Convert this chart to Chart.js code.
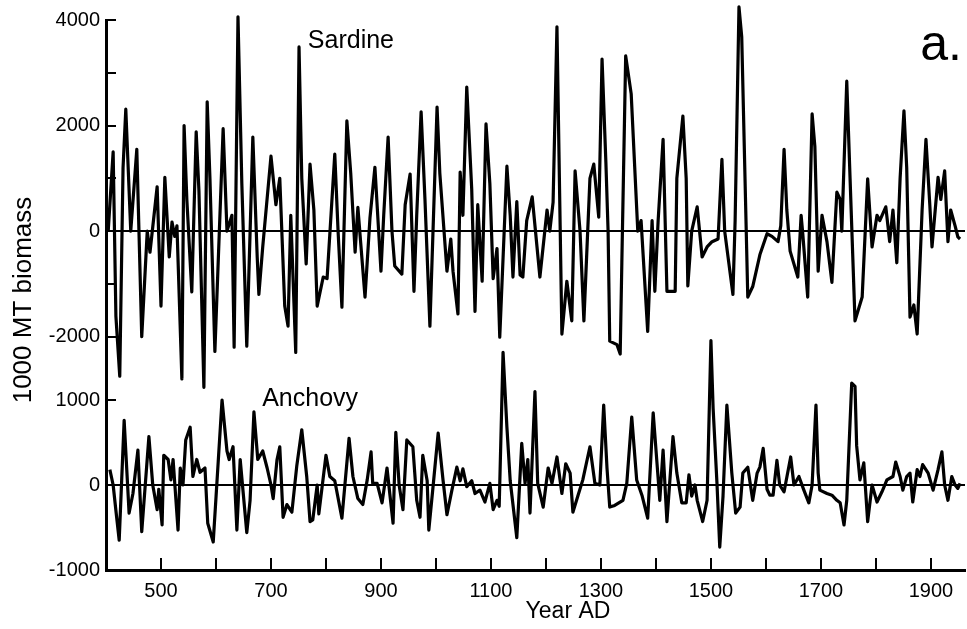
<!DOCTYPE html>
<html>
<head>
<meta charset="utf-8">
<script src="https://cdn.jsdelivr.net/npm/chart.js@4.4.0/dist/chart.umd.min.js"></script>
<style>
  html, body { margin: 0; padding: 0; background: #fff; }
  #chart { display: block; }
</style>
</head>
<body>
<canvas id="chart" width="967" height="629"></canvas>
<script>
const FONT = '"Liberation Sans", Arial, Helvetica, sans-serif';

// --- DATA ---
const sardineYears = [
  404, 413, 418, 425, 431, 436, 445, 456, 465, 475,
  480, 493, 500, 507, 515, 520, 525, 529, 538, 542,
  547, 556, 564, 569, 578, 584, 589, 598, 613, 620,
  629, 633, 640, 647, 656, 667, 675, 678, 685, 700,
  709, 716, 725, 731, 736, 745, 751, 756, 764, 771,
  778, 784, 795, 802, 816, 822, 829, 838, 845, 853,
  858, 871, 880, 889, 900, 905, 913, 920, 925, 938,
  944, 953, 960, 965, 973, 980, 989, 1002, 1007, 1020,
  1027, 1031, 1040, 1044, 1049, 1056, 1065, 1071, 1076, 1084,
  1091, 1098, 1104, 1111, 1116, 1129, 1135, 1140, 1147, 1153,
  1158, 1165, 1175, 1189, 1202, 1207, 1213, 1220, 1229, 1238,
  1247, 1253, 1262, 1269, 1280, 1287, 1296, 1302, 1309, 1313,
  1316, 1329, 1335, 1338, 1345, 1355, 1367, 1373, 1385, 1393,
  1398, 1404, 1413, 1420, 1435, 1438, 1449, 1455, 1458, 1465,
  1475, 1484, 1493, 1502, 1513, 1520, 1525, 1540, 1544, 1551,
  1556, 1567, 1576, 1589, 1602, 1611, 1622, 1627, 1633, 1638,
  1644, 1658, 1664, 1667, 1676, 1684, 1689, 1695, 1702, 1711,
  1720, 1729, 1735, 1738, 1747, 1753, 1762, 1775, 1785, 1793,
  1802, 1807, 1818, 1825, 1831, 1838, 1844, 1851, 1856, 1862,
  1869, 1875, 1884, 1891, 1898, 1902, 1913, 1918, 1925, 1931,
  1936, 1944, 1949, 1953
];
const sardineValues = [
  0, 1500, -1610, -2750, 1200, 2310, 0, 1550, -2000, 0,
  -400, 840, -1420, 1020, -490, 170, -100, 100, -2800, 2000,
  600, -1150, 1880, 760, -2960, 2450, 1000, -2280, 1940, 0,
  300, -2200, 4060, 900, -2180, 1780, -500, -1200, -300, 1420,
  500, 1000, -1420, -1800, 300, -2300, 3490, 1000, -620, 1270,
  400, -1420, -870, -900, 1460, 0, -1440, 2090, 1100, -400,
  450, -1250, 250, 1210, -760, 300, 1780, 0, -660, -815,
  500, 1080, -1140, 300, 2260, 600, -1800, 2350, 1100, -760,
  -150, -760, -1570, 1120, 300, 2730, 800, -1520, 500, -950,
  2030, 900, -900, -330, -2010, 1230, 300, -870, 560, -830,
  -870, 200, 650, -870, 400, 0, 550, 3870, -1950, -950,
  -1700, 1140, 0, -1700, 1000, 1270, 265, 3260, 1300, 0,
  -2085, -2150, -2330, -600, 3320, 2600, 0, 200, -1900, 200,
  -1140, 200, 1740, -1140, -1140, 1000, 2180, 1000, -1040, 0,
  460, -490, -300, -200, -150, 1360, 0, -1200, 200, 4250,
  3680, -1250, -1050, -450, -50, -100, -200, 100, 1550, 400,
  -380, -870, 300, -50, -1250, 2220, 1600, -760, 300, -200,
  -970, 740, 600, 0, 2840, 1000, -1700, -1250, 990, -300,
  300, 200, 460, -200, 400, -600, 1000, 2280, 1200, -1630,
  -1400, -1950, 400, 1740, 500, -300, 1020, 600, 1140, -200,
  400, 100, -110, -150
];

const anchovyYears = [
  407, 413, 418, 424, 433, 442, 449, 458, 465, 478,
  485, 493, 496, 502, 505, 513, 518, 522, 531, 535,
  540, 545, 553, 558, 565, 571, 580, 585, 595, 602,
  611, 620, 624, 631, 638, 644, 656, 662, 669, 676,
  685, 693, 700, 704, 711, 716, 722, 729, 738, 747,
  756, 765, 771, 776, 784, 787, 800, 807, 816, 829,
  842, 849, 858, 867, 875, 882, 885, 893, 902, 911,
  916, 922, 927, 933, 940, 947, 958, 965, 971, 976,
  984, 987, 995, 1004, 1013, 1020, 1029, 1038, 1044, 1049,
  1056, 1065, 1071, 1080, 1089, 1098, 1104, 1111, 1115, 1122,
  1129, 1135, 1147, 1156, 1162, 1167, 1171, 1180, 1185, 1195,
  1204, 1211, 1220, 1229, 1236, 1244, 1249, 1258, 1267, 1280,
  1289, 1298, 1305, 1311, 1316, 1325, 1340, 1347, 1356, 1365,
  1375, 1385, 1395, 1402, 1407, 1413, 1420, 1431, 1438, 1447,
  1455, 1460, 1465, 1471, 1475, 1485, 1493, 1500, 1504, 1511,
  1516, 1522, 1529, 1538, 1545, 1553, 1558, 1567, 1576, 1584,
  1589, 1595, 1602, 1607, 1613, 1620, 1625, 1633, 1645, 1651,
  1660, 1669, 1678, 1684, 1691, 1695, 1698, 1711, 1720, 1729,
  1735, 1742, 1747, 1756, 1762, 1765, 1771, 1778, 1785, 1793,
  1802, 1811, 1820, 1831, 1836, 1844, 1849, 1856, 1862, 1867,
  1875, 1880, 1885, 1895, 1904, 1913, 1920, 1925, 1931, 1938,
  1944, 1949, 1953
];
const anchovyValues = [
  180, 0, -300, -650, 760, -330, -100, 410, -550, 570,
  0, -290, -50, -470, 350, 300, 60, 300, -530, 200,
  0, 530, 680, 100, 300, 150, 200, -450, -670, 60,
  1000, 400, 300, 450, -530, 300, -560, -180, 860, 300,
  400, 200, 0, -160, 300, 450, -380, -230, -320, 230,
  650, 100, -430, -410, 0, -340, 350, 100, 50, -390,
  550, 100, -160, -230, 60, 390, 20, 20, -210, 200,
  -100, -450, 620, 0, -290, 530, 450, -180, -380, 350,
  50, -530, 0, 610, 50, -350, -60, 210, 50, 190,
  -20, 50, -100, -60, -200, 20, -290, -180, -250, 1560,
  680, 50, -620, 490, 20, 300, -330, 1100, 20, -260,
  200, 20, 330, -100, 250, 140, -320, -130, 60, 450,
  20, 0, 940, 200, -260, -240, -180, 20, 800, 60,
  -130, -390, 850, 250, -180, 410, -430, 570, 140, -210,
  -210, 120, -130, 0, -180, -430, -180, 1700, 900, 20,
  -730, -130, 940, 140, -330, -260, 140, 210, -180, 140,
  210, 430, -50, -120, -120, 290, 0, -80, 330, 0,
  100, -60, -210, 0, 940, 140, -60, -100, -120, -180,
  -210, -470, -180, 1200, 1160, 460, 60, 260, -430, 0,
  -200, -80, 60, 100, 270, 100, -60, 100, 140, -200,
  180, 100, 240, 140, -60, 180, 390, 0, -180, 100,
  0, -40, 20
];

// axis ticks
const yearTicks = [500, 600, 700, 800, 900, 1000, 1100, 1200, 1300, 1400, 1500, 1600, 1700, 1800, 1900];
const sardineTicks = [-2000, -1000, 0, 1000, 2000, 3000, 4000];
const anchovyTicks = [-1000, 0, 1000];

// --- extra drawing: inward tick marks and free text ---
const figureMarks = {
  id: 'figureMarks',
  afterDraw(chart) {
    const { ctx, chartArea, scales } = chart;
    ctx.save();
    ctx.strokeStyle = '#000';
    ctx.lineWidth = 2;

    // left axis ticks point into the plot
    [['ySar', sardineTicks], ['yAnc', anchovyTicks]].forEach(([id, vals]) => {
      vals.forEach(v => {
        const py = Math.round(scales[id].getPixelForValue(v));
        ctx.beginPath();
        ctx.moveTo(chartArea.left, py);
        ctx.lineTo(chartArea.left + 10, py);
        ctx.stroke();
      });
    });
    // bottom axis ticks point up
    yearTicks.forEach(v => {
      const px = Math.round(scales.x.getPixelForValue(v));
      ctx.beginPath();
      ctx.moveTo(px, chartArea.bottom);
      ctx.lineTo(px, chartArea.bottom - 12);
      ctx.stroke();
    });

    ctx.fillStyle = '#000';
    ctx.textBaseline = 'middle';
    ctx.textAlign = 'left';
    ctx.font = '25px ' + FONT;
    ctx.fillText('Sardine', scales.x.getPixelForValue(767), scales.ySar.getPixelForValue(3600));
    ctx.fillText('Anchovy', scales.x.getPixelForValue(684), scales.yAnc.getPixelForValue(1010));

    ctx.textAlign = 'right';
    ctx.textBaseline = 'alphabetic';
    ctx.font = '50px ' + FONT;
    ctx.fillText('a.', chartArea.right - 3, 60);

    // axis titles
    ctx.textAlign = 'center';
    ctx.textBaseline = 'middle';
    ctx.font = '23px ' + FONT;
    ctx.fillText('Year AD', 568, 612);

    ctx.translate(24, 300);
    ctx.rotate(-Math.PI / 2);
    ctx.font = '26px ' + FONT;
    ctx.fillText('1000 MT biomass', 0, 0);
    ctx.restore();
  }
};

function zeroLine(c) {
  return c.tick && c.tick.value === 0 ? '#000' : 'rgba(0,0,0,0)';
}

const lineStyle = {
  borderColor: '#000',
  borderWidth: 3.2,
  pointRadius: 0,
  tension: 0,
  clip: false,
  borderJoinStyle: 'round'
};

new Chart(document.getElementById('chart'), {
  type: 'line',
  data: {
    datasets: [
      Object.assign({
        label: 'Sardine',
        data: sardineYears.map((yr, i) => ({ x: yr, y: sardineValues[i] })),
        yAxisID: 'ySar'
      }, lineStyle),
      Object.assign({
        label: 'Anchovy',
        data: anchovyYears.map((yr, i) => ({ x: yr, y: anchovyValues[i] })),
        yAxisID: 'yAnc'
      }, lineStyle)
    ]
  },
  options: {
    responsive: false,
    animation: false,
    devicePixelRatio: 1,
    layout: { padding: { top: 20, right: 2, bottom: 0, left: 0 } },
    plugins: { legend: { display: false }, tooltip: { enabled: false } },
    scales: {
      x: {
        type: 'linear',
        min: 400,
        max: 1962,
        afterBuildTicks: s => { s.ticks = yearTicks.map(v => ({ value: v })); },
        afterFit: s => { s.height = 59; },
        grid: { display: false },
        border: { display: true, color: '#000', width: 3 },
        ticks: {
          autoSkip: false, maxRotation: 0, padding: 1, color: '#000',
          font: { size: 20, family: FONT },
          callback: v => ((v - 500) % 200 === 0 ? String(v) : '')
        }
      },
      ySar: {
        type: 'linear',
        position: 'left',
        stack: 'fig',
        stackWeight: 380,
        weight: 2,
        min: -3200,
        max: 4000,
        afterBuildTicks: s => { s.ticks = sardineTicks.map(v => ({ value: v })); },
        afterFit: s => { s.width = 106; },
        grid: { drawTicks: false, lineWidth: 2, color: zeroLine },
        border: { display: true, color: '#000', width: 3 },
        ticks: {
          autoSkip: false, padding: 6, color: '#000',
          font: { size: 20, family: FONT },
          callback: v => (v % 2000 === 0 ? String(v) : '')
        }
      },
      yAnc: {
        type: 'linear',
        position: 'left',
        stack: 'fig',
        stackWeight: 170,
        weight: 1,
        min: -1000,
        max: 1000,
        afterBuildTicks: s => { s.ticks = anchovyTicks.map(v => ({ value: v })); },
        afterFit: s => { s.width = 106; },
        grid: { drawTicks: false, lineWidth: 2, color: zeroLine },
        border: { display: true, color: '#000', width: 3 },
        ticks: {
          autoSkip: false, padding: 6, color: '#000',
          font: { size: 20, family: FONT },
          callback: v => String(v)
        }
      }
    }
  },
  plugins: [figureMarks]
});
</script>
</body>
</html>
